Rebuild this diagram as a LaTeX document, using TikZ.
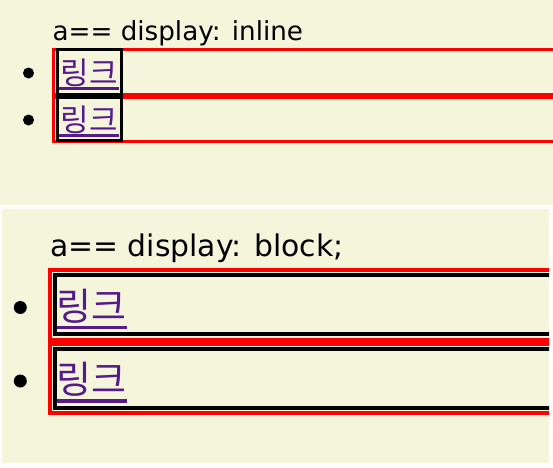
\documentclass[tikz,border=0pt]{standalone}
\usepackage{fontspec}
\setmainfont{DejaVu Sans}
\newfontfamily\krfont{Noto Sans CJK KR}
\definecolor{bg}{HTML}{F5F5DC}
\definecolor{visited}{HTML}{551A8B}
\begin{document}
\begin{tikzpicture}[x=1pt,y=-1pt,
  lititle/.style={anchor=base west,inner sep=0pt},
  libox/.style={draw=red},
  linkbox/.style={draw=black},
  linktext/.style={anchor=base,inner sep=0pt,text=visited},
  uline/.style={fill=visited},
  bulletdot/.style={fill=black}]
\useasboundingbox (0,0) rectangle (553,467);
\fill[white] (0,0) rectangle (553,467);
\fill[bg] (0,0) rectangle (553,205);
\fill[bg] (2,209) rectangle (549,463);
% ---------- top panel ----------
\node[lititle,font=\fontsize{26.2}{30}\selectfont] (t1) at (52.3,40.5) {a== display: inline};
\begin{scope}
\clip (0,0) rectangle (553,205);
\draw[libox,line width=3pt] (53.8,49.5) rectangle (600,94.5);
\draw[libox,line width=3pt] (53.8,97.5) rectangle (600,141.5);
\draw[linkbox,line width=3pt] (57.5,49.8) rectangle (121.5,94.8);
\draw[linkbox,line width=3pt] (57.5,97.8) rectangle (121.5,140.8);
\end{scope}
\node[linktext,font=\krfont\fontsize{31}{34}\selectfont] (k1) at (89.5,84.5) {링크};
\node[linktext,font=\krfont\fontsize{31}{34}\selectfont] (k2) at (89.5,131.5) {링크};
\fill[uline] (59.3,87) rectangle (119,90);
\fill[uline] (59.3,134) rectangle (119,137);
\fill[bulletdot] (28.5,73) circle (5.5pt);
\fill[bulletdot] (28.5,120) circle (5.5pt);
% ---------- bottom panel ----------
\node[lititle,font=\fontsize{29.8}{34}\selectfont] (t2) at (50,256.7) {a== display: block;};
\begin{scope}
\clip (2,209) rectangle (549,463);
\draw[libox,line width=4pt] (50,270) rectangle (600,340);
\draw[libox,line width=4pt] (50,344) rectangle (600,413);
\draw[linkbox,line width=4pt] (54.5,275) rectangle (600,334);
\draw[linkbox,line width=4pt] (54.5,349) rectangle (600,408);
\end{scope}
\node[linktext,font=\krfont\fontsize{38}{42}\selectfont] (k3) at (91.5,320) {링크};
\node[linktext,font=\krfont\fontsize{38}{42}\selectfont] (k4) at (91.5,393) {링크};
\fill[uline] (57,326) rectangle (127,329.3);
\fill[uline] (57,399) rectangle (127,402.7);
\fill[bulletdot] (20.3,307.5) circle (6.5pt);
\fill[bulletdot] (20.3,381) circle (6.5pt);
\end{tikzpicture}
\end{document}
